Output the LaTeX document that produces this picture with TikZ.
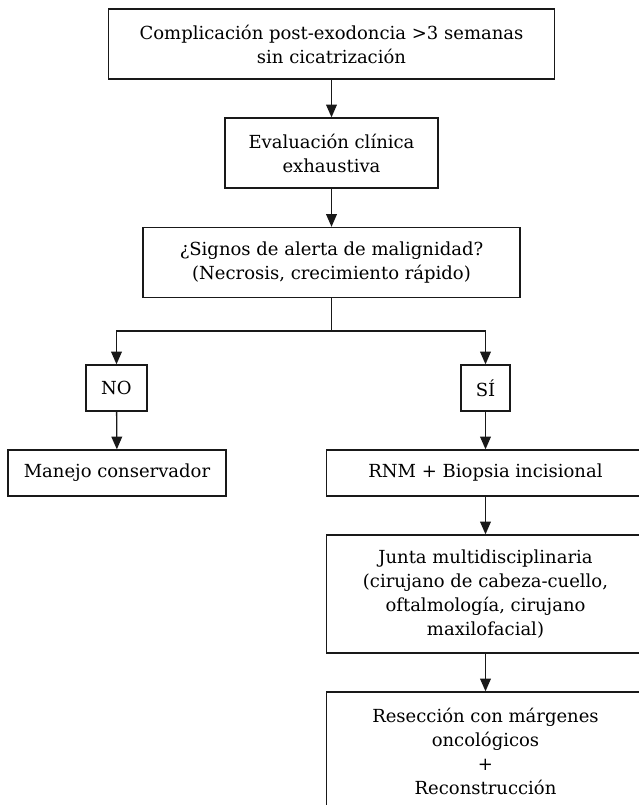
\documentclass[tikz,border=0pt]{standalone}
\usepackage{fontspec}
\setmainfont{DejaVu Serif}
\usetikzlibrary{arrows.meta}
\begin{document}
\begin{tikzpicture}[x=0.75pt,y=-0.75pt,
  box/.style={draw=black!90,line width=1pt,fill=white,align=center,inner sep=0pt,
    font=\fontsize{13.5pt}{18pt}\selectfont,text=black},
  arr/.style={draw=black!90,line width=1pt,-{Triangle[length=9.5pt,width=8pt]}},
  ln/.style={draw=black!90,line width=1pt}]
\useasboundingbox (0,0) rectangle (638,805);
\node[box,minimum width=446*0.75pt,minimum height=70*0.75pt] (top) at (331.5,44) {Complicación post-exodoncia >3 semanas\\sin cicatrización};
\node[box,minimum width=213*0.75pt,minimum height=70*0.75pt] (eval) at (331.5,153) {Evaluación clínica\\exhaustiva};
\node[box,minimum width=377*0.75pt,minimum height=70*0.75pt] (q) at (331.5,262.5) {¿Signos de alerta de malignidad?\\(Necrosis, crecimiento rápido)};
\node[box,minimum width=61*0.75pt,minimum height=46*0.75pt] (no) at (116.5,388) {NO};
\node[box,minimum width=49*0.75pt,minimum height=46*0.75pt] (si) at (485.5,388) {SÍ};
\node[box,minimum width=218*0.75pt,minimum height=46*0.75pt] (man) at (117,473) {Manejo conservador};
\node[box,minimum width=318*0.75pt,minimum height=46*0.75pt] (rnm) at (485.5,473) {RNM + Biopsia incisional};
\node[box,minimum width=318*0.75pt,minimum height=118*0.75pt] (junta) at (485.5,594) {Junta multidisciplinaria\\(cirujano de cabeza-cuello,\\oftalmología, cirujano\\maxilofacial)};
\node[box,minimum width=318*0.75pt,minimum height=118*0.75pt] (res) at (485.5,751) {Resección con márgenes\\oncológicos\\+\\Reconstrucción};
\coordinate (j) at (331.5,331);
\draw[arr] (top) -- (eval);
\draw[arr] (eval) -- (q);
\draw[ln] (q.south) -- (j);
\draw[arr] (j) -| (no.north);
\draw[arr] (j) -| (si.north);
\draw[arr] (no) -- (man);
\draw[arr] (si) -- (rnm);
\draw[arr] (rnm) -- (junta);
\draw[arr] (junta) -- (res);
\end{tikzpicture}
\end{document}
